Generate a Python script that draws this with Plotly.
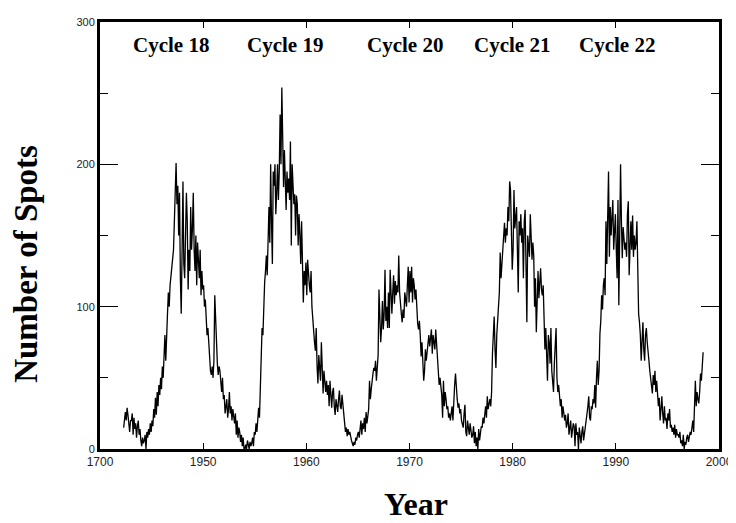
import plotly.graph_objects as go

# Monthly sunspot numbers, starting April 1942
start_year = 1942
start_month = 4
spots = [
    # 1942 (Apr-Dec)
    15, 22, 26, 20, 29, 24, 18, 12, 20,
    # 1943
    20, 25, 10, 22, 14, 18, 8, 16, 20, 10, 14, 6,
    # 1944
    2, 8, 4, 6, 10, 0, 12, 8, 14, 10, 18, 12,
    # 1945
    20, 16, 28, 22, 36, 24, 40, 30, 45, 38, 50, 42,
    # 1946
    58, 50, 70, 80, 62, 88, 95, 110, 100, 115, 122, 128,
    # 1947
    130, 140, 160, 180, 201, 172, 185, 150, 180, 120, 95, 140,
    # 1948
    188, 130, 120, 150, 180, 160, 112, 140, 125, 170, 140, 155,
    # 1949
    180, 140, 125, 150, 115, 145, 130, 120, 140, 108, 125, 112,
    # 1950
    115, 100, 105, 90, 80, 85, 72, 65, 55, 52, 58, 50,
    # 1951
    62, 108, 90, 70, 60, 52, 58, 55, 48, 40, 50, 35,
    # 1952
    38, 25, 30, 35, 22, 28, 40, 25, 30, 20, 28, 22,
    # 1953
    18, 25, 10, 20, 8, 15, 12, 5, 10, 2, 8, 0,
    # 1954
    0, 3, 0, 6, 2, 0, 5, 2, 4, 8, 2, 12,
    # 1955
    10, 18, 12, 25, 29, 22, 48, 60, 85, 80, 108, 117,
    # 1956
    125, 136, 122, 150, 170, 145, 200, 160, 130, 195, 185, 200,
    # 1957
    165, 180, 200, 175, 195, 235, 200, 254, 220, 184, 210, 195,
    # 1958
    168, 195, 180, 190, 175, 216, 143, 200, 185, 172, 179, 150,
    # 1959
    178, 172, 143, 165, 150, 130, 160, 120, 103, 125, 115, 131,
    # 1960
    108, 133, 120, 115, 110, 125, 100, 89, 80, 75, 69, 85,
    # 1961
    58, 46, 66, 52, 48, 75, 62, 39, 55, 45, 40, 48,
    # 1962
    38, 45, 30, 48, 35, 29, 40, 43, 30, 24, 35, 28,
    # 1963
    26, 35, 41, 30, 28, 38, 30, 26, 18, 12, 15, 9,
    # 1964
    14, 10, 12, 8, 6, 4, 2, 5, 3, 8, 6, 10,
    # 1965
    12, 8, 15, 20, 10, 18, 14, 22, 12, 26, 18, 22,
    # 1966
    28, 48, 35, 42, 50, 53, 57, 55, 62, 48, 57, 66,
    # 1967
    112, 90, 75, 85, 104, 84, 95, 126, 90, 100, 85, 110,
    # 1968
    85, 126, 100, 95, 110, 122, 102, 118, 108, 115, 110, 136,
    # 1969
    110, 100, 95, 89, 98, 92, 110, 105, 100, 115, 128, 103,
    # 1970
    125, 110, 128, 103, 120, 115, 105, 112, 93, 88, 84, 90,
    # 1971
    80, 65, 75, 60, 48, 55, 70, 62, 68, 75, 80, 72,
    # 1972
    78, 84, 67, 80, 75, 70, 84, 72, 62, 57, 45, 50,
    # 1973
    45, 38, 22, 48, 30, 40, 35, 28, 30, 22, 25, 20,
    # 1974
    25, 30, 20, 37, 45, 53, 40, 35, 29, 32, 25, 28,
    # 1975
    20, 18, 15, 25, 31, 12, 9, 20, 15, 10, 18, 12,
    # 1976
    8, 10, 16, 4, 12, 2, 8, 0, 14, 6, 10, 16,
    # 1977
    15, 22, 18, 25, 30, 22, 37, 28, 32, 35, 30, 40,
    # 1978
    67, 85, 93, 70, 57, 80, 94, 96, 110, 138, 120, 130,
    # 1979
    140, 150, 159, 145, 155, 150, 170, 160, 188, 182, 160, 126,
    # 1980
    140, 182, 155, 165, 170, 140, 110, 160, 150, 165, 145, 155,
    # 1981
    120, 160, 168, 130, 89, 150, 140, 135, 165, 150, 133, 145,
    # 1982
    136, 100, 120, 82, 110, 125, 106, 120, 127, 112, 108, 115,
    # 1983
    94, 70, 85, 60, 48, 80, 75, 60, 85, 55, 45, 40,
    # 1984
    60, 70, 85, 50, 40, 45, 37, 30, 35, 22, 30, 25,
    # 1985
    20, 24, 15, 18, 25, 10, 14, 20, 8, 12, 18, 16,
    # 1986
    2, 18, 10, 12, 0, 15, 8, 4, 12, 16, 6, 10,
    # 1987
    14, 20, 25, 30, 37, 22, 20, 30, 28, 35, 32, 45,
    # 1988
    29, 50, 62, 45, 55, 81, 90, 108, 98, 115, 120, 108,
    # 1989
    160, 130, 175, 195, 135, 170, 150, 160, 175, 140, 155, 165,
    # 1990
    140, 120, 175, 101, 150, 200, 160, 134, 156, 150, 140, 145,
    # 1991
    135, 165, 174, 122, 150, 160, 140, 164, 135, 150, 140, 145,
    # 1992
    160, 103, 95, 89, 80, 62, 75, 89, 70, 62, 80, 85,
    # 1993
    75, 70, 62, 55, 50, 48, 39, 52, 45, 55, 40, 48,
    # 1994
    40, 30, 36, 20, 28, 37, 25, 18, 30, 20, 22, 14,
    # 1995
    25, 20, 28, 15, 17, 12, 15, 10, 17, 8, 14, 10,
    # 1996
    10, 8, 12, 4, 6, 2, 10, 0, 5, 3, 8, 10,
    # 1997
    5, 8, 12, 10, 15, 20, 12, 28, 48, 30, 40, 35,
    # 1998 (Jan-Jun)
    32, 40, 53, 48, 56, 68,
]

x_tick_vals = [1940, 1950, 1960, 1970, 1980, 1990, 2000]
x_tick_text = ["1700", "1950", "1960", "1970", "1980", "1990", "2000"]
y_tick_vals = [0, 100, 200, 300]
y_minor_vals = [50, 150, 250]

cycle_names = ["Cycle 18", "Cycle 19", "Cycle 20", "Cycle 21", "Cycle 22"]
cycle_label_x = [1946.93, 1957.93, 1969.56, 1979.93, 1990.11]
cycle_label_y = 284

time = [start_year + (start_month - 1 + i + 0.5) / 12 for i in range(len(spots))]

fig = go.Figure()
fig.add_trace(go.Scatter(x=time, y=spots, mode="lines",
                         line=dict(color="black", width=1.3),
                         hoverinfo="x+y"))

serif = "Liberation Serif, Times New Roman, serif"
sans = "Liberation Sans, Arial, sans-serif"

for name, cx in zip(cycle_names, cycle_label_x):
    fig.add_annotation(x=cx, y=cycle_label_y, xref="x", yref="y",
                       text="<b>" + name + "</b>", showarrow=False,
                       xanchor="center", yanchor="middle",
                       font=dict(family=serif, size=21, color="black"))

fig.add_annotation(x=-0.12, y=0.433, xref="paper", yref="paper",
                   text="<b>Number of Spots</b>", textangle=-90, showarrow=False,
                   xanchor="center", yanchor="middle",
                   font=dict(family=serif, size=33, color="black"))
fig.add_annotation(x=0.51, y=-0.128, xref="paper", yref="paper",
                   text="<b>Year</b>", showarrow=False,
                   xanchor="center", yanchor="middle",
                   font=dict(family=serif, size=32, color="black"))

fig.update_layout(
    width=736, height=523,
    margin=dict(l=92, r=25, t=8, b=82),
    plot_bgcolor="white", paper_bgcolor="white",
    showlegend=False,
    xaxis=dict(range=[1940, 2000], tickvals=x_tick_vals, ticktext=x_tick_text,
               ticks="inside", ticklen=6, tickwidth=1, tickcolor="black",
               showline=True, linewidth=3, linecolor="black", mirror="ticks",
               showgrid=False, zeroline=False,
               tickfont=dict(family=sans, size=12, color="#222")),
    yaxis=dict(range=[0, 300], tickvals=y_tick_vals,
               ticks="inside", ticklen=18, tickwidth=1, tickcolor="black",
               minor=dict(tickvals=y_minor_vals, ticks="inside", ticklen=8,
                          tickwidth=1, tickcolor="black", showgrid=False),
               showline=True, linewidth=3, linecolor="black", mirror="ticks",
               showgrid=False, zeroline=False,
               tickfont=dict(family=sans, size=11, color="#222")),
)

fig.write_html("out.html")
